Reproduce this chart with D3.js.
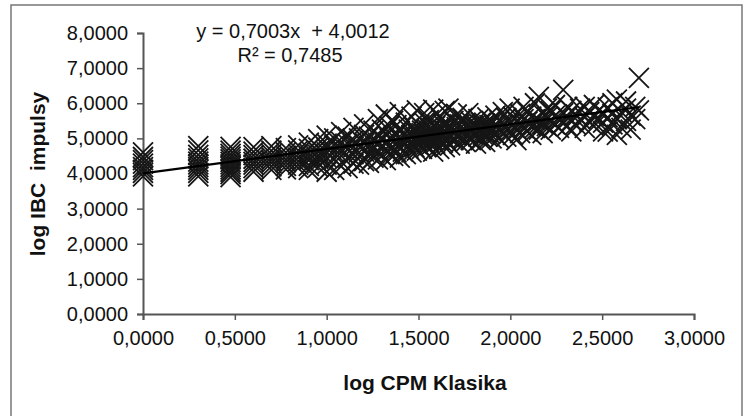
<!DOCTYPE html>
<html>
<head>
<meta charset="utf-8">
<script src="https://cdn.jsdelivr.net/npm/d3@7"></script>
<style>
  body { margin: 0; background: #fff; }
  text { font-family: "Liberation Sans", Arial, sans-serif; fill: #111; }
</style>
</head>
<body>
<script>
// log CPM (x) values, each with the log IBC (y) readings at that x
var cpmLog = [0, 0.301, 0.477, 0.602, 0.699, 0.778, 0.845, 0.903, 0.954, 1.0,
  1.041, 1.079, 1.114, 1.146, 1.176, 1.204, 1.230, 1.255, 1.279, 1.301,
  1.322, 1.342, 1.362, 1.380, 1.398, 1.415, 1.431, 1.447, 1.462, 1.477,
  1.491, 1.505, 1.519, 1.531, 1.544, 1.556, 1.568, 1.580, 1.591, 1.602,
  1.613, 1.623, 1.633, 1.643, 1.653, 1.663, 1.672, 1.690, 1.708, 1.724,
  1.740, 1.756, 1.771, 1.785, 1.799, 1.813, 1.826, 1.839, 1.851, 1.863,
  1.875, 1.886, 1.898, 1.919, 1.940, 1.959, 1.978, 1.996, 2.014, 2.033,
  2.053, 2.072, 2.093, 2.114, 2.134, 2.155, 2.176, 2.199, 2.220, 2.243,
  2.265, 2.288, 2.310, 2.332, 2.356, 2.380, 2.405, 2.430, 2.455, 2.480,
  2.505, 2.530, 2.556, 2.580, 2.605, 2.630, 2.655, 2.680, 2.700];

var ibcLog = [
  [3.92, 4.02, 4.10, 4.18, 4.28, 4.38, 4.47, 4.60],
  [3.92, 4.02, 4.10, 4.18, 4.26, 4.34, 4.43, 4.53, 4.66, 4.78],
  [3.90, 3.98, 4.05, 4.12, 4.19, 4.26, 4.33, 4.40, 4.48, 4.56, 4.65, 4.76],
  [4.05, 4.15, 4.25, 4.33, 4.42, 4.52, 4.62, 4.75],
  [4.10, 4.20, 4.30, 4.38, 4.46, 4.55, 4.65, 4.78],
  [4.12, 4.22, 4.32, 4.40, 4.50, 4.60, 4.72],
  [4.15, 4.25, 4.35, 4.45, 4.55, 4.66, 4.80],
  [4.10, 4.22, 4.38, 4.48, 4.58, 4.70, 4.88],
  [4.18, 4.30, 4.42, 4.52, 4.62, 4.74, 4.98],
  [4.05, 4.25, 4.45, 4.60, 4.72, 4.85, 5.08],
  [4.10, 4.40, 4.60, 4.80, 5.00],
  [4.20, 4.50, 4.70, 4.90, 5.18],
  [4.15, 4.45, 4.68, 4.85, 5.05],
  [4.28, 4.55, 4.75, 4.95, 5.30],
  [4.25, 4.60, 4.80, 5.00],
  [4.35, 4.62, 4.85, 5.10, 5.40],
  [4.30, 4.58, 4.78, 5.05],
  [4.45, 4.70, 4.92, 5.22],
  [4.40, 4.65, 4.88, 5.10, 5.55],
  [4.50, 4.75, 4.95, 5.25],
  [4.38, 4.70, 4.90, 5.15, 5.68],
  [4.55, 4.80, 5.00, 5.35],
  [4.50, 4.75, 5.05, 5.50],
  [4.60, 4.85, 5.10, 5.38],
  [4.45, 4.78, 4.98, 5.20, 5.75],
  [4.62, 4.90, 5.15],
  [4.55, 4.85, 5.05, 5.45],
  [4.70, 4.95, 5.25],
  [4.60, 4.88, 5.10, 5.62],
  [4.75, 5.00, 5.30],
  [4.65, 4.92, 5.18, 5.80],
  [4.80, 5.05, 5.38],
  [4.70, 4.98, 5.22],
  [4.85, 5.10, 5.45, 5.72],
  [4.75, 5.02, 5.28],
  [4.90, 5.15, 5.52],
  [4.80, 5.05, 5.30],
  [4.62, 4.95, 5.20, 5.82],
  [4.85, 5.10, 5.35],
  [5.00, 5.25, 5.70],
  [4.70, 4.95, 5.18],
  [5.05, 5.30, 5.55],
  [4.88, 5.12, 5.40],
  [4.75, 5.00, 5.22, 5.78],
  [4.92, 5.15, 5.45],
  [5.05, 5.28, 5.85],
  [4.80, 5.02, 5.35],
  [4.95, 5.20, 5.50],
  [5.08, 5.32, 5.68],
  [4.85, 5.10, 5.40],
  [5.00, 5.25, 5.58],
  [4.90, 5.15, 5.45],
  [5.05, 5.30, 5.72],
  [4.95, 5.20, 5.48],
  [5.10, 5.35],
  [4.85, 5.15, 5.40],
  [5.05, 5.28, 5.55],
  [4.95, 5.20, 5.45],
  [5.10, 5.35],
  [4.90, 5.18, 5.42],
  [5.05, 5.30, 5.60],
  [5.15, 5.38],
  [5.00, 5.25, 5.50],
  [5.10, 5.35, 5.65],
  [5.00, 5.28, 5.52],
  [5.15, 5.40, 5.75],
  [5.05, 5.32, 5.58],
  [5.20, 5.45, 5.85],
  [5.10, 5.38, 5.62],
  [4.95, 5.25, 5.50],
  [5.15, 5.42, 5.70],
  [5.30, 5.55, 5.90],
  [5.20, 5.48, 5.75],
  [5.10, 5.35, 5.62],
  [5.30, 5.55, 6.00],
  [5.25, 5.50, 6.18],
  [5.15, 5.42, 5.70],
  [5.35, 5.60, 5.85],
  [5.25, 5.52, 5.78],
  [5.40, 5.65, 5.95],
  [5.30, 5.58],
  [5.45, 5.72, 6.38],
  [5.35, 5.62, 5.90],
  [5.20, 5.50, 5.78],
  [5.40, 5.68],
  [5.55, 5.85],
  [5.30, 5.60, 5.90],
  [5.48, 5.75],
  [5.35, 5.65, 5.95],
  [5.55, 5.80],
  [5.20, 5.45, 5.72],
  [5.19, 5.60, 5.88],
  [5.40, 5.70, 6.00],
  [5.10, 5.55, 6.10],
  [5.30, 5.75],
  [5.50, 5.85, 6.05],
  [5.25, 5.65],
  [5.55, 5.90],
  [5.80, 6.72]
];

var xTicks = [0, 0.5, 1, 1.5, 2, 2.5, 3];
var yTicks = [0, 1, 2, 3, 4, 5, 6, 7, 8];
var slope = 0.7003, intercept = 4.0012, rSquared = 0.7485;
var trendRange = [0, 2.70];

var width = 749, height = 416;

var svg = d3.select("body").append("svg")
  .attr("width", width)
  .attr("height", height);

// outer chart frame
svg.append("rect")
  .attr("x", 11).attr("y", 5)
  .attr("width", 731).attr("height", 430)
  .attr("fill", "#fff")
  .attr("stroke", "#777")
  .attr("stroke-width", 1.5);

var x = d3.scaleLinear().domain([0, 3]).range([143, 694]);
var y = d3.scaleLinear().domain([0, 8]).range([314, 33]);

var locale = d3.formatLocale({ decimal: ",", thousands: " ", grouping: [3], currency: ["", ""] });
var fmt = locale.format(".4f");

var xAxis = svg.append("g")
  .attr("transform", "translate(0," + y(0) + ")")
  .call(d3.axisBottom(x).tickValues(xTicks).tickFormat(fmt).tickSize(6).tickPadding(11).tickSizeOuter(6));

var yAxis = svg.append("g")
  .attr("transform", "translate(" + x(0) + ",0)")
  .call(d3.axisLeft(y).tickValues(yTicks).tickFormat(fmt).tickSize(6).tickPadding(9).tickSizeOuter(6));

[xAxis, yAxis].forEach(function (g) {
  g.select(".domain").attr("stroke", "#555").attr("stroke-width", 2);
  g.selectAll(".tick line").attr("stroke", "#555").attr("stroke-width", 1.5);
  g.selectAll(".tick text")
    .attr("font-family", "Liberation Sans, Arial, sans-serif")
    .attr("font-size", 20)
    .attr("fill", "#111");
});

// points
var points = [];
cpmLog.forEach(function (cx, i) {
  ibcLog[i].forEach(function (v) { points.push({ x: cx, y: v }); });
});

var half = 10;
svg.append("g").selectAll("path")
  .data(points)
  .enter()
  .append("path")
  .attr("d", function (d) {
    var px = x(d.x), py = y(d.y);
    return "M" + (px - half) + "," + (py - half) + "L" + (px + half) + "," + (py + half) +
      "M" + (px - half) + "," + (py + half) + "L" + (px + half) + "," + (py - half);
  })
  .attr("fill", "none")
  .attr("stroke", "#161616")
  .attr("stroke-width", 1.8);

// linear trendline
svg.append("line")
  .attr("x1", x(trendRange[0])).attr("y1", y(intercept + slope * trendRange[0]))
  .attr("x2", x(trendRange[1])).attr("y2", y(intercept + slope * trendRange[1]))
  .attr("stroke", "#000")
  .attr("stroke-width", 2.2);

// equation
svg.append("text")
  .attr("x", 293).attr("y", 38)
  .attr("text-anchor", "middle")
  .attr("font-size", 20)
  .style("white-space", "pre")
  .text("y = " + fmt(slope) + "x  + " + fmt(intercept));

svg.append("text")
  .attr("x", 290).attr("y", 62)
  .attr("text-anchor", "middle")
  .attr("font-size", 20)
  .text("R\u00b2 = " + fmt(rSquared));

// axis titles
svg.append("text")
  .attr("x", 425).attr("y", 390)
  .attr("text-anchor", "middle")
  .attr("font-size", 21)
  .attr("font-weight", "bold")
  .text("log CPM Klasika");

svg.append("text")
  .attr("transform", "translate(45,174) rotate(-90)")
  .attr("text-anchor", "middle")
  .attr("font-size", 21)
  .attr("font-weight", "bold")
  .style("white-space", "pre")
  .text("log IBC  impulsy");
</script>
</body>
</html>
